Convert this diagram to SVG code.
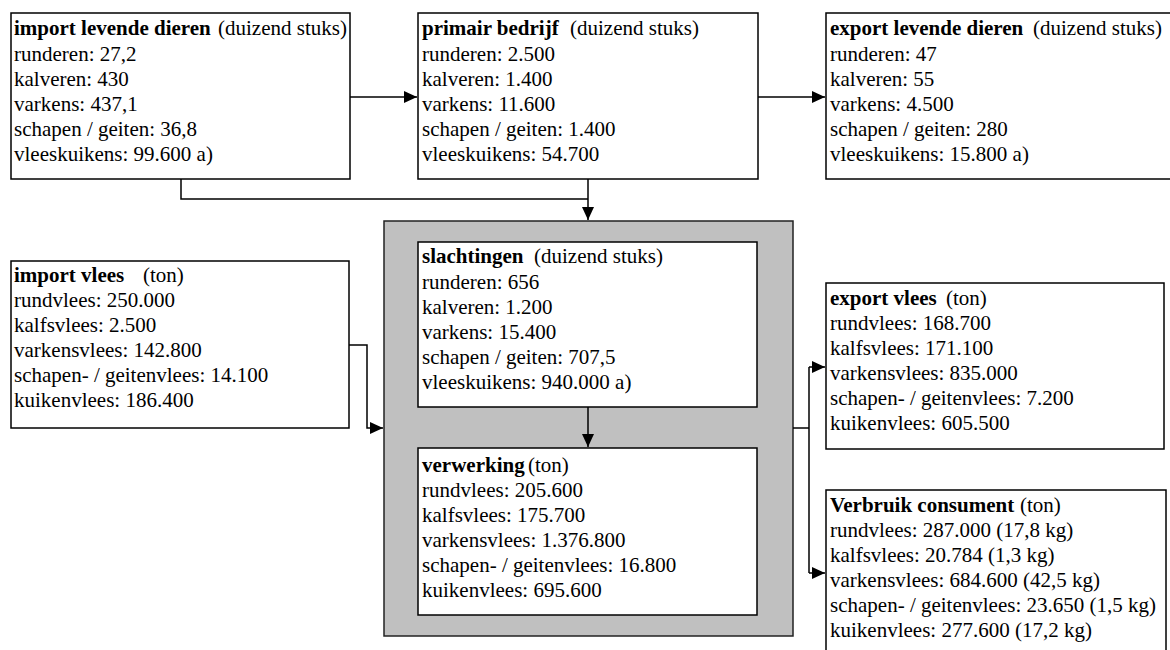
<svg xmlns="http://www.w3.org/2000/svg" width="1170" height="650" viewBox="0 0 1170 650">
<style>
.box{fill:#fff;stroke:#000;stroke-width:1.5}
.gray{fill:#c0c0c0;stroke:#222;stroke-width:1.5}
.c{fill:none;stroke:#000;stroke-width:1.5}
</style>
<defs>
<marker id="ah" markerUnits="userSpaceOnUse" markerWidth="14" markerHeight="12" refX="13" refY="6" orient="auto">
<path d="M0,0 L13,6 L0,12 Z" fill="#000"/>
</marker>
</defs>
<rect width="1170" height="650" fill="#fff"/>
<g id="verwerkingsketen">
<rect class="gray" x="384" y="221" width="409" height="415"/>
</g>
<g id="connectors">
<path class="c" d="M350 97 H417" marker-end="url(#ah)"/>
<path class="c" d="M758 97 H825" marker-end="url(#ah)"/>
<path class="c" d="M181 179 V199 H588"/>
<path class="c" d="M588 179 V220" marker-end="url(#ah)"/>
<path class="c" d="M349 345 H367 V428 H383" marker-end="url(#ah)"/>
<path class="c" d="M588 407 V447" marker-end="url(#ah)"/>
<path class="c" d="M793 428 H809"/>
<path class="c" d="M809 367 V573"/>
<path class="c" d="M809 367 H825" marker-end="url(#ah)"/>
<path class="c" d="M809 573 H825" marker-end="url(#ah)"/>
</g>
<g font-family="Liberation Serif" font-size="21" fill="#000">
<g id="import-levende-dieren">
<rect class="box" x="11" y="13" width="339" height="166"/>
<text x="14" y="35"><tspan font-weight="bold">import levende dieren</tspan><tspan x="218">(duizend stuks)</tspan></text>
<text x="14" y="61">runderen: 27,2</text>
<text x="14" y="86">kalveren: 430</text>
<text x="14" y="111">varkens: 437,1</text>
<text x="14" y="136">schapen / geiten: 36,8</text>
<text x="14" y="161">vleeskuikens: 99.600 a)</text>
</g>
<g id="primair-bedrijf">
<rect class="box" x="418" y="13" width="340" height="166"/>
<text x="422" y="35"><tspan font-weight="bold">primair bedrijf</tspan><tspan x="570">(duizend stuks)</tspan></text>
<text x="422" y="61">runderen: 2.500</text>
<text x="422" y="86">kalveren: 1.400</text>
<text x="422" y="111">varkens: 11.600</text>
<text x="422" y="136">schapen / geiten: 1.400</text>
<text x="422" y="161">vleeskuikens: 54.700</text>
</g>
<g id="export-levende-dieren">
<rect class="box" x="826" y="13" width="360" height="166"/>
<text x="830" y="35"><tspan font-weight="bold">export levende dieren</tspan><tspan x="1033">(duizend stuks)</tspan></text>
<text x="830" y="61">runderen: 47</text>
<text x="830" y="86">kalveren: 55</text>
<text x="830" y="111">varkens: 4.500</text>
<text x="830" y="136">schapen / geiten: 280</text>
<text x="830" y="161">vleeskuikens: 15.800 a)</text>
</g>
<g id="import-vlees">
<rect class="box" x="11" y="261" width="338" height="167"/>
<text x="14" y="282"><tspan font-weight="bold">import vlees</tspan><tspan x="143">(ton)</tspan></text>
<text x="14" y="307">rundvlees: 250.000</text>
<text x="14" y="332">kalfsvlees: 2.500</text>
<text x="14" y="357">varkensvlees: 142.800</text>
<text x="14" y="382">schapen- / geitenvlees: 14.100</text>
<text x="14" y="407">kuikenvlees: 186.400</text>
</g>
<g id="slachtingen">
<rect class="box" x="418" y="242" width="339" height="165"/>
<text x="422" y="263"><tspan font-weight="bold">slachtingen</tspan><tspan x="534">(duizend stuks)</tspan></text>
<text x="422" y="289">runderen: 656</text>
<text x="422" y="314">kalveren: 1.200</text>
<text x="422" y="339">varkens: 15.400</text>
<text x="422" y="364">schapen / geiten: 707,5</text>
<text x="422" y="389">vleeskuikens: 940.000 a)</text>
</g>
<g id="verwerking">
<rect class="box" x="418" y="448" width="339" height="167"/>
<text x="422" y="472"><tspan font-weight="bold">verwerking</tspan><tspan x="528">(ton)</tspan></text>
<text x="422" y="497">rundvlees: 205.600</text>
<text x="422" y="522">kalfsvlees: 175.700</text>
<text x="422" y="547">varkensvlees: 1.376.800</text>
<text x="422" y="572">schapen- / geitenvlees: 16.800</text>
<text x="422" y="597">kuikenvlees: 695.600</text>
</g>
<g id="export-vlees">
<rect class="box" x="826" y="283" width="338" height="166"/>
<text x="830" y="305"><tspan font-weight="bold">export vlees</tspan><tspan x="946">(ton)</tspan></text>
<text x="830" y="330">rundvlees: 168.700</text>
<text x="830" y="355">kalfsvlees: 171.100</text>
<text x="830" y="380">varkensvlees: 835.000</text>
<text x="830" y="405">schapen- / geitenvlees: 7.200</text>
<text x="830" y="430">kuikenvlees: 605.500</text>
</g>
<g id="verbruik-consument">
<rect class="box" x="826" y="490" width="340" height="175"/>
<text x="830" y="512"><tspan font-weight="bold">Verbruik consument</tspan><tspan x="1020">(ton)</tspan></text>
<text x="830" y="537">rundvlees: 287.000 (17,8 kg)</text>
<text x="830" y="562">kalfsvlees: 20.784 (1,3 kg)</text>
<text x="830" y="587">varkensvlees: 684.600 (42,5 kg)</text>
<text x="830" y="612">schapen- / geitenvlees: 23.650 (1,5 kg)</text>
<text x="830" y="637">kuikenvlees: 277.600 (17,2 kg)</text>
</g>
</g>
</svg>
